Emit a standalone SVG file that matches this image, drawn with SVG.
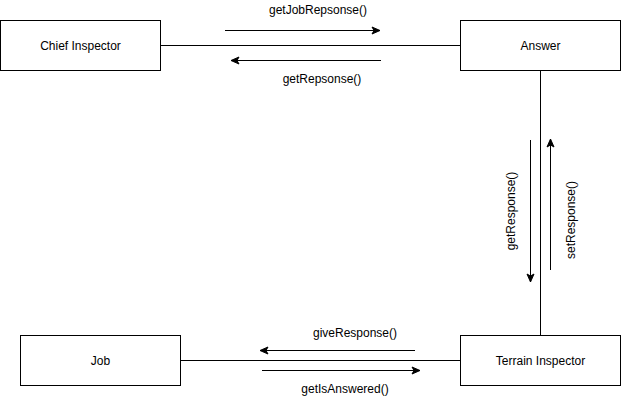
<svg xmlns="http://www.w3.org/2000/svg" width="621" height="401" viewBox="0 0 621 401">
  <style>
    .box { fill: #ffffff; stroke: #000000; stroke-width: 1; }
    .lbl { font-family: "Liberation Sans", Arial, Helvetica, sans-serif; font-size: 12px; fill: #000000; text-anchor: middle; dominant-baseline: central; }
    .link { fill: none; stroke: #000000; stroke-width: 1; }
    .msg { fill: none; stroke: #000000; stroke-width: 1; marker-end: url(#arrow); }
  </style>
  <defs>
    <marker id="arrow" viewBox="0 0 10 10" refX="9" refY="5" markerWidth="10" markerHeight="10" markerUnits="userSpaceOnUse" orient="auto">
      <path d="M1,1.5 L9,5 L1,8.5 L3,5 Z" fill="#000000" stroke="#000000" stroke-width="1"/>
    </marker>
  </defs>
  <rect width="621" height="401" fill="#ffffff"/>

  <g id="connectors">
    <path class="link" d="M160.5,45.5 H460.5"/>
    <path class="link" d="M540.5,70.5 V335.5"/>
    <path class="link" d="M180.5,360.5 H460.5"/>
    <!-- messages between Chief Inspector and Answer -->
    <path class="msg" d="M225,30.5 H380"/>
    <text class="lbl" x="318" y="10">getJobRepsonse()</text>
    <path class="msg" d="M381,60.5 H231"/>
    <text class="lbl" x="322" y="79">getRepsonse()</text>
    <!-- messages between Answer and Terrain Inspector -->
    <path class="msg" d="M530.5,140 V282"/>
    <text class="lbl" transform="translate(511,211) rotate(-90)">getResponse()</text>
    <path class="msg" d="M550.5,270 V139"/>
    <text class="lbl" transform="translate(571,220) rotate(-90)">setResponse()</text>
    <!-- messages between Terrain Inspector and Job -->
    <path class="msg" d="M415,350.5 H260"/>
    <text class="lbl" x="355" y="333">giveResponse()</text>
    <path class="msg" d="M262,370.5 H420"/>
    <text class="lbl" x="345" y="389">getIsAnswered()</text>
  </g>

  <g id="chief-inspector">
    <rect class="box" x="0.5" y="20.5" width="160" height="50"/>
    <text class="lbl" x="80.5" y="45.5">Chief Inspector</text>
  </g>
  <g id="answer">
    <rect class="box" x="460.5" y="20.5" width="160" height="50"/>
    <text class="lbl" x="540.5" y="45.5">Answer</text>
  </g>
  <g id="terrain-inspector">
    <rect class="box" x="460.5" y="335.5" width="160" height="50"/>
    <text class="lbl" x="540.5" y="360.5">Terrain Inspector</text>
  </g>
  <g id="job">
    <rect class="box" x="20.5" y="335.5" width="160" height="50"/>
    <text class="lbl" x="100.5" y="360.5">Job</text>
  </g>
</svg>
